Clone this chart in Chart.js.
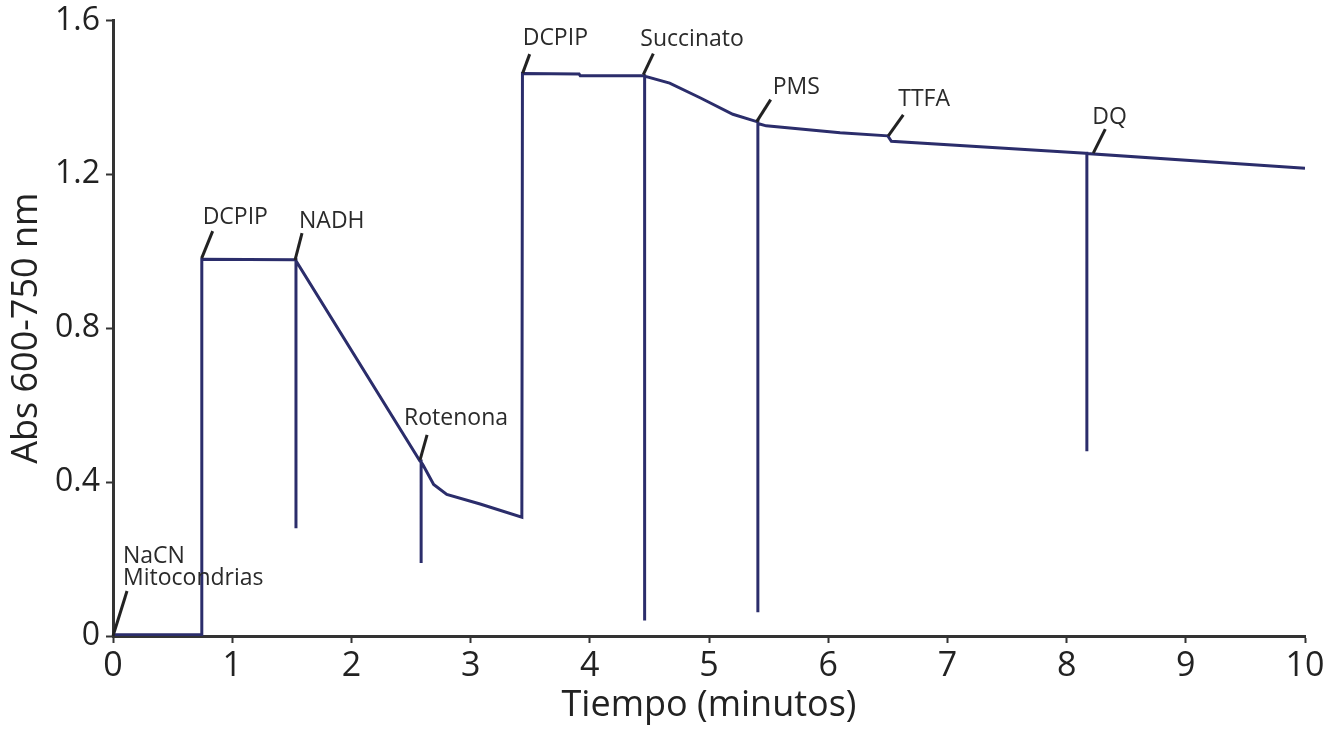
<!DOCTYPE html>
<html>
<head>
<meta charset="utf-8">
<script src="https://cdn.jsdelivr.net/npm/chart.js@4.4.1/dist/chart.umd.min.js"></script>
<style>
  html, body { margin: 0; padding: 0; background: #fff; }
  #wrap { width: 1344px; height: 729px; position: relative; }
</style>
</head>
<body>
<div id="wrap"><canvas id="trace"></canvas></div>
<script>
// Registro de absorbancia
const timeMin = [
  0, 0.74, 0.745, 1.52,
  1.535, 1.535, 1.535, 2.575,
  2.585, 2.585, 2.585, 2.6, 2.69, 2.8, 3.08, 3.43,
  3.435, 3.44, 3.91, 3.92, 4.44,
  4.46, 4.46, 4.46, 4.67, 4.925, 5.2, 5.4,
  5.41, 5.41, 5.41, 5.48, 6.1, 6.5, 6.53, 8.16,
  8.17, 8.17, 8.17, 10.0,
];
const absorbance = [
  0.003, 0.003, 0.979, 0.978,
  0.978, 0.28, 0.975, 0.455,
  0.455, 0.19, 0.452, 0.445, 0.394, 0.368, 0.343, 0.309,
  1.462, 1.462, 1.461, 1.456, 1.456,
  1.456, 0.04, 1.455, 1.437, 1.399, 1.356, 1.337,
  1.337, 0.062, 1.332, 1.326, 1.308, 1.3, 1.286, 1.255,
  1.255, 0.48, 1.254, 1.216,
];

const xTicks = [0, 1, 2, 3, 4, 5, 6, 7, 8, 9, 10];
const yTicks = [0, 0.4, 0.8, 1.2, 1.6];
const yTickLabels = ['0', '0.4', '0.8', '1.2', '1.6'];

// Adiciones marcadas sobre el registro
const eventNames = [
  ['NaCN', 'Mitocondrias'], ['DCPIP'], ['NADH'], ['Rotenona'], ['DCPIP'],
  ['Succinato'], ['PMS'], ['TTFA'], ['DQ'],
];
const eventTimes = [0, 0.744, 1.527, 2.576, 3.437, 4.449, 5.40, 6.504, 8.224];
const eventAbs = [0, 0.982, 0.977, 0.458, 1.463, 1.459, 1.337, 1.30, 1.255];

// desplazamientos en px: [fin guía x, fin guía y, texto x, texto y]
const eventOffsets = [
  [14, -45, 10, -73],
  [11, -27, 1, -34],
  [7, -27, 4, -32],
  [7, -25, -16, -35],
  [7, -19, 0, -28],
  [10, -21, -3, -29],
  [14, -22, 16, -28],
  [15, -21, 10, -30],
  [12, -24, -1, -29],
];

const inkColor = '#222222';
const traceColor = '#2b2d6b';
const fontFamily = '"Open Sans", "Noto Sans", sans-serif';

const points = timeMin.map((t, i) => ({x: t, y: absorbance[i]}));

// Dibuja etiquetas con su línea guía
const eventLabelsPlugin = {
  id: 'eventLabels',
  afterDatasetsDraw(chart) {
    const {ctx, scales} = chart;
    ctx.save();
    ctx.strokeStyle = inkColor;
    ctx.fillStyle = '#2a2a2a';
    ctx.lineWidth = 3;
    ctx.lineCap = 'butt';
    ctx.font = '23px ' + fontFamily;
    ctx.textAlign = 'left';
    ctx.textBaseline = 'alphabetic';
    eventNames.forEach((lines, i) => {
      const px = scales.x.getPixelForValue(eventTimes[i]);
      const py = scales.y.getPixelForValue(eventAbs[i]);
      const [lx, ly, tx, ty] = eventOffsets[i];
      ctx.beginPath();
      ctx.moveTo(px, py);
      ctx.lineTo(px + lx, py + ly);
      ctx.stroke();
      lines.forEach((txt, j) => {
        ctx.fillText(txt, px + tx, py + ty + j * 22);
      });
    });
    ctx.restore();
  },
};

new Chart(document.getElementById('trace'), {
  type: 'line',
  data: {
    datasets: [
      {
        data: points,
        borderColor: traceColor,
        borderWidth: 3,
        pointRadius: 0,
        tension: 0,
        fill: false,
      },
    ],
  },
  options: {
    responsive: true,
    maintainAspectRatio: false,
    animation: false,
    layout: {padding: {top: 15, right: 39, left: 0, bottom: 0}},
    plugins: {legend: {display: false}, tooltip: {enabled: false}},
    scales: {
      x: {
        type: 'linear',
        min: 0,
        max: 10,
        afterBuildTicks: (scale) => {
          scale.ticks = xTicks.map((v) => ({value: v}));
        },
        afterFit: (scale) => {
          scale.height = 93;
        },
        ticks: {
          color: inkColor,
          padding: 3,
          font: {family: fontFamily, size: 34, lineHeight: 1.2},
        },
        grid: {
          drawOnChartArea: false,
          drawTicks: true,
          tickLength: 7,
          tickWidth: 2,
          tickColor: '#333',
        },
        border: {display: true, width: 3, color: '#333'},
        title: {
          display: true,
          text: 'Tiempo (minutos)',
          color: inkColor,
          padding: {top: 0, bottom: 2},
          font: {family: fontFamily, size: 36, lineHeight: 1.2},
        },
      },
      y: {
        type: 'linear',
        min: 0,
        max: 1.6,
        afterBuildTicks: (scale) => {
          scale.ticks = yTicks.map((v) => ({value: v}));
        },
        afterFit: (scale) => {
          scale.width = 113;
        },
        ticks: {
          color: inkColor,
          padding: 6,
          font: {family: fontFamily, size: 32, lineHeight: 0.9},
          callback: (value) => yTickLabels[yTicks.indexOf(value)],
        },
        grid: {
          drawOnChartArea: false,
          drawTicks: true,
          tickLength: 7,
          tickWidth: 2,
          tickColor: '#333',
        },
        border: {display: true, width: 3, color: '#333'},
        title: {
          display: true,
          text: 'Abs 600-750 nm',
          color: inkColor,
          padding: {top: 5, bottom: 0},
          font: {family: fontFamily, size: 36, lineHeight: 1.2},
        },
      },
    },
  },
  plugins: [eventLabelsPlugin],
});
</script>
</body>
</html>
